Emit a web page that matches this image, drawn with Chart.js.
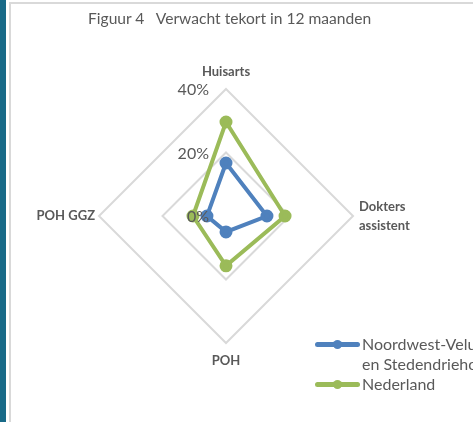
<!DOCTYPE html>
<html>
<head>
<meta charset="utf-8">
<script src="https://cdn.jsdelivr.net/npm/chart.js@4/dist/chart.umd.min.js"></script>
<style>
html, body { margin: 0; padding: 0; background: #fff; }
body { width: 473px; height: 422px; position: relative; overflow: hidden; font-family: Lato, "Liberation Sans", sans-serif; color: #595959; }
#edge { position: absolute; left: 0; top: 0; width: 6px; height: 422px; background: #186a88; }
#frame { position: absolute; left: 9px; top: 2px; width: 480px; height: 440px; border-left: 2px solid #d9d9d9; border-top: 2px solid #d9d9d9; }
#title { position: absolute; left: 88px; top: 9px; font-size: 15.6px; white-space: pre; }
#chart { position: absolute; left: 0; top: 0; }
#legend { position: absolute; left: 315px; top: 334px; font-size: 16px; line-height: 20px; }
.item { display: flex; align-items: flex-start; }
.mark { position: relative; width: 45px; height: 20px; flex: none; margin-right: 2px; }
.mark .ln { position: absolute; left: 0; right: 0; top: 8px; height: 5px; border-radius: 3px; }
.mark .dot { position: absolute; left: 18px; top: 6px; width: 9px; height: 9px; border-radius: 50%; }
.txt { width: 150px; }
</style>
</head>
<body>
<div id="edge"></div>
<div id="frame"></div>
<canvas id="chart" width="473" height="422"></canvas>
<div id="title">Figuur 4   Verwacht tekort in 12 maanden</div>
<div id="legend"></div>
<script>
// tekort per functie, in procenten
var categories = [['Huisarts'], ['Dokters', 'assistent'], ['POH'], ['POH GGZ']];
var seriesNames = ['Noordwest-Veluwe en Stedendriehoek', 'Nederland'];
var regio = [16.7, 12.9, 5.0, 6.0];
var nederland = [29.6, 18.6, 15.7, 10.4];
var tickValues = [0, 20, 40];
var colors = ['#4f81bd', '#9bbb59'];

// labels around the diamond and percentages along the vertical axis
var radarText = {
    id: 'radarText',
    afterDatasetsDraw: function(chart) {
        var ctx = chart.ctx;
        var r = chart.scales.r;
        ctx.save();
        ctx.fillStyle = '#595959';
        ctx.textBaseline = 'middle';
        ctx.font = '16px Lato';
        ctx.textAlign = 'right';
        tickValues.forEach(function(v) {
            var p = r.getPointPositionForValue(0, v);
            ctx.fillText(v + '%', p.x - 17, p.y + 1);
        });
        ctx.font = 'bold 13px Lato';
        categories.forEach(function(lines, i) {
            var p = r.getPointPositionForValue(i, r.max);
            var dx = p.x - r.xCenter, dy = p.y - r.yCenter;
            var x = p.x, y = p.y;
            if (Math.abs(dx) < 1) {
                ctx.textAlign = 'center';
                y += dy < 0 ? -17 : 18;
            } else if (dx > 0) {
                ctx.textAlign = 'left';
                x += 6;
            } else {
                ctx.textAlign = 'right';
                x -= 4;
            }
            var lh = 19;
            var y0 = y - (lines.length - 1) * lh / 2;
            lines.forEach(function(t, k) {
                ctx.fillText(t, x, y0 + k * lh);
            });
        });
        ctx.restore();
    }
};

var ctx = document.getElementById('chart').getContext('2d');
var myChart = new Chart(ctx, {
    type: 'radar',
    data: {
        labels: categories,
        datasets: [regio, nederland].map(function(d, i) {
            return {
                label: seriesNames[i],
                data: d,
                borderColor: colors[i],
                backgroundColor: colors[i],
                pointBackgroundColor: colors[i],
                pointBorderColor: colors[i],
                borderWidth: 4,
                pointRadius: 4.5,
                fill: false,
                tension: 0
            };
        }).reverse()
    },
    options: {
        responsive: false,
        animation: false,
        layout: { padding: { left: 99, top: 89, right: 120, bottom: 79 } },
        plugins: { legend: { display: false }, tooltip: { enabled: false } },
        scales: {
            r: {
                min: 0,
                max: 40,
                ticks: { display: false, stepSize: 20 },
                pointLabels: { display: false },
                angleLines: { display: false },
                grid: { circular: false, color: '#d9d9d9', lineWidth: 2 }
            }
        }
    },
    plugins: [radarText]
});

// legend
var legend = document.getElementById('legend');
seriesNames.forEach(function(name, i) {
    var item = document.createElement('div');
    item.className = 'item';
    item.innerHTML = '<span class="mark"><span class="ln" style="background:' + colors[i] + '"></span>' +
        '<span class="dot" style="background:' + colors[i] + '"></span></span><span class="txt"></span>';
    item.querySelector('.txt').textContent = name;
    legend.appendChild(item);
});
</script>
</body>
</html>
